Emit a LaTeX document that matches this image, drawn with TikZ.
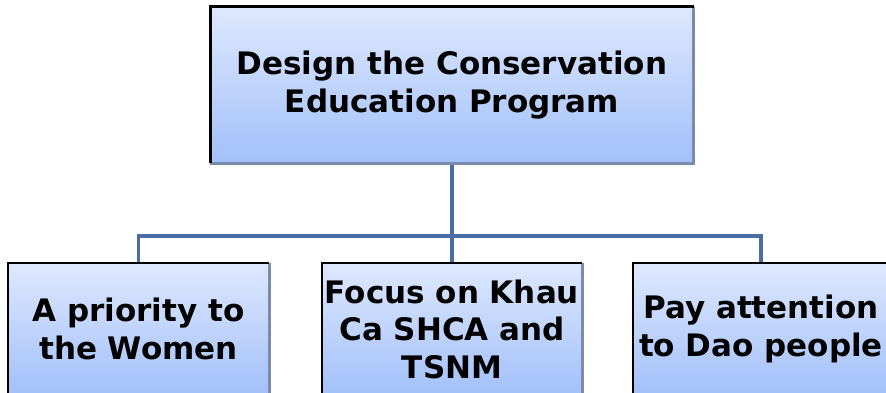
\documentclass[tikz,border=0pt]{standalone}
\usepackage{fontspec}
\setmainfont{DejaVu Sans}
\definecolor{boxtop}{HTML}{DEE8FD}
\definecolor{boxbot}{HTML}{A2C0FA}
\definecolor{conncol}{HTML}{4A6DA3}
\definecolor{shadecol}{HTML}{7A8BAC}
\tikzset{
  orgbox/.style={rectangle, inner sep=2pt, align=center, top color=boxtop, bottom color=boxbot,
    font=\fontsize{31}{37.5}\selectfont\bfseries, text=black},
  conn/.style={draw=conncol, line width=3.2pt},
  edgedark/.style={draw=black, line width=2.6pt},
  edgelight/.style={draw=shadecol, line width=3pt}
}
\begin{document}
\begin{tikzpicture}[x=1pt,y=-1pt]
\useasboundingbox (0,0) rectangle (886,393);
\clip (0,0) rectangle (886,393);
\node[orgbox, minimum width=483pt, minimum height=156pt] (top) at (452,85) {Design the Conservation\\Education Program};
\node[orgbox, minimum width=261pt, minimum height=132pt] (left) at (138.5,329) {A priority to\\the Women};
\node[orgbox, minimum width=260pt, minimum height=132pt] (mid) at (452,329) {Focus on Khau\\Ca SHCA and\\TSNM};
\node[orgbox, minimum width=256pt, minimum height=132pt] (right) at (761,329) {Pay attention\\to Dao people};
\coordinate (bus) at (452,236);
\draw[conn] (top.south) -- (bus);
\draw[conn] (left.north) |- (bus) -| (right.north);
\draw[conn] (bus) -- (mid.north);
\foreach \n in {top,left,mid,right}{
  \draw[edgelight] (\n.north east) -- (\n.south east) -- (\n.south west);
  \draw[edgedark] (\n.south west) -- (\n.north west) -- (\n.north east);
}
\end{tikzpicture}
\end{document}
